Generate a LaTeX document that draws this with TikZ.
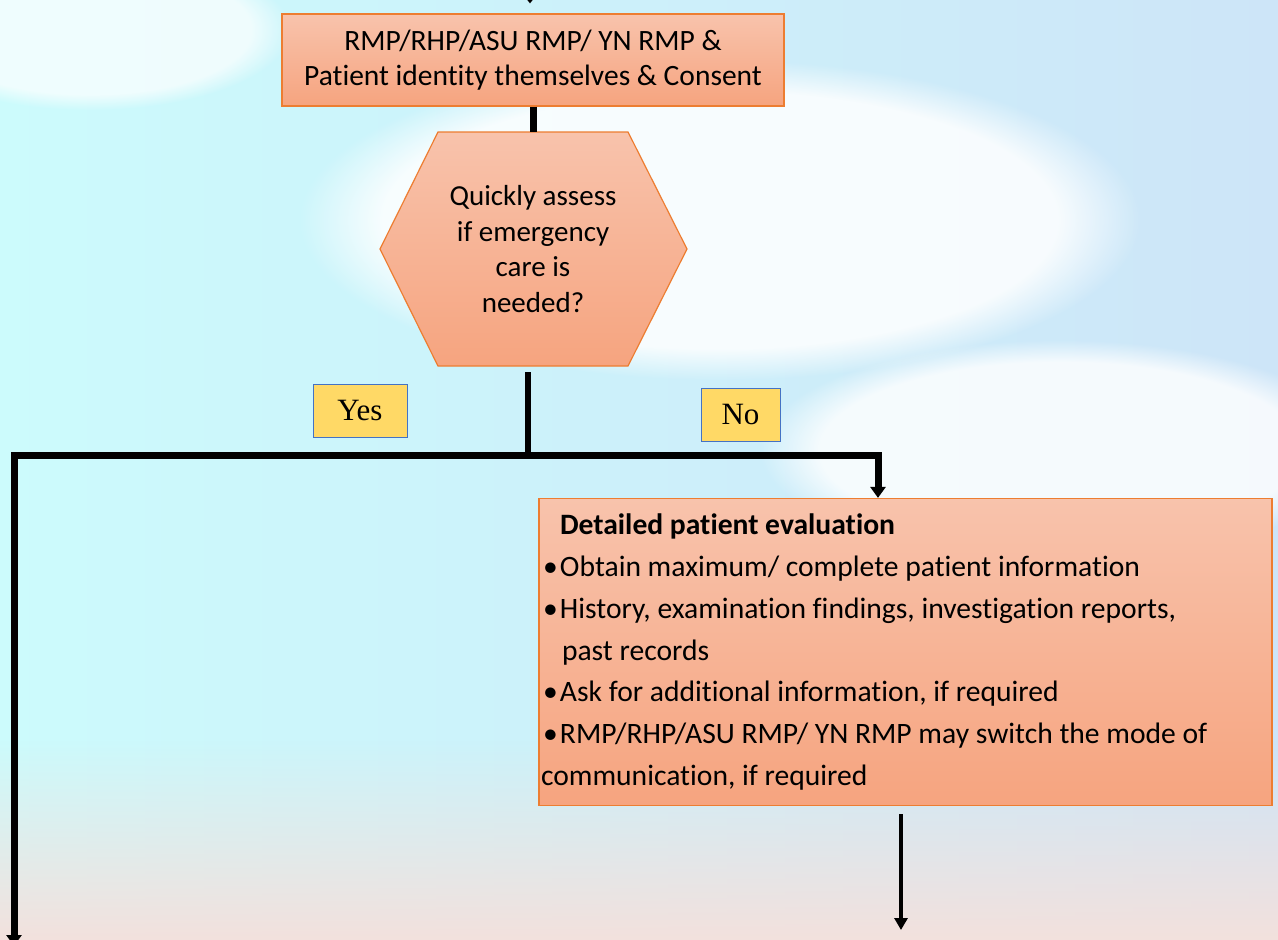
\documentclass[tikz,border=0pt]{standalone}
\usepackage{fontspec}
\setmainfont{Carlito}[Ligatures=NoCommon]
\newfontfamily\tagfont{Liberation Serif}
\usetikzlibrary{arrows.meta,fadings}

\definecolor{boxtop}{HTML}{F8C3AC}
\definecolor{boxbot}{HTML}{F6A47F}
\definecolor{boxline}{HTML}{ED7D31}
\definecolor{tagfill}{HTML}{FFD966}
\definecolor{tagline}{HTML}{4472C4}
\definecolor{bgcyan}{HTML}{CCFBFC}
\definecolor{bgblue}{HTML}{CDE5F8}
\definecolor{bgpink}{HTML}{F3E1DD}

\newcommand{\bul}{\makebox[19pt][c]{\textbullet}}

\tikzset{
  stepbox/.style={draw=boxline, line width=1.2pt, top color=boxtop, bottom color=boxbot, inner sep=2pt},
  tag/.style={draw=tagline, line width=1pt, fill=tagfill, inner sep=0pt,
    font=\tagfont\fontsize{31}{34}\selectfont},
  flow/.style={line width=7pt, black},
}

\begin{document}
\begin{tikzpicture}[x=1pt, y=-1pt]
\useasboundingbox (0,0) rectangle (1278,940);
% background
\fill[left color=bgcyan, right color=bgblue] (0,0) rectangle (1278,940);
\fill[white, opacity=.85, path fading=circle with fuzzy edge 20 percent] (720,220) ellipse [x radius=420pt, y radius=160pt];
\fill[white, opacity=.8, path fading=circle with fuzzy edge 20 percent] (1060,450) ellipse [x radius=300pt, y radius=110pt];
\fill[white, opacity=.7, path fading=circle with fuzzy edge 20 percent] (90,30) ellipse [x radius=200pt, y radius=80pt];
\fill[bgpink, path fading=north] (0,740) rectangle (1278,940);

% hexagon
\path[draw=boxline, line width=1.2pt, top color=boxtop, bottom color=boxbot]
  (438,132) -- (628,132) -- (687,249) -- (628,366) -- (438,366) -- (380,249) -- cycle;

\node[stepbox, minimum width=502pt, minimum height=92pt, align=center,
  font=\fontsize{29.5}{35}\selectfont] (top) at (533,60)
  {RMP/RHP/ASU RMP/ YN RMP \&\\Patient identity themselves \& Consent};
\node[minimum width=307pt, minimum height=234pt, align=center,
  font=\fontsize{29}{35.5}\selectfont] (quick) at (533,249)
  {Quickly assess\\if emergency\\care is\\needed?};
\node[tag, minimum width=94pt, minimum height=53pt] (yes) at (360,410.5) {Yes};
\node[tag, minimum width=79pt, minimum height=53pt] (no) at (740.5,414.5) {No};
\node[stepbox, minimum width=733pt, minimum height=307pt, text width=729pt, align=left,
  font=\fontsize{29.6}{41.8}\selectfont] (detail) at (905.5,652)
  {\spaceskip=0pt\hspace*{19pt}\textbf{Detailed patient evaluation}\\
   \bul Obtain maximum/ complete patient information\\
   \bul History, examination findings, investigation reports,\\
   \hspace*{21pt}past records\\
   \bul Ask for additional information, if required\\
   \bul RMP/RHP/ASU RMP/ YN RMP may switch the mode of\\
   communication, if required};

\coordinate (entry) at (530,-20);
\coordinate (split) at (528,455);
\coordinate (noturn) at (878,455);
\coordinate (yesend) at (14,946);
\coordinate (next) at (901,930);

\draw[line width=2pt, -{Triangle[length=6pt,width=9pt]}] (entry) -- ([yshift=10pt]top.north -| entry);
\draw[flow] (top.south) -- (quick.north);
\draw[flow, line width=6pt] ([yshift=-6pt]quick.south -| split) -- (split);
\draw[flow, {Triangle[length=11pt,width=15pt]}-{Triangle[length=11pt,width=15pt]}]
  (yesend) |- (noturn) -- (noturn |- detail.north);
\draw[line width=4pt, -{Triangle[length=12pt,width=13pt]}] ([yshift=-8pt]detail.south -| next) -- (next);
\end{tikzpicture}
\end{document}
